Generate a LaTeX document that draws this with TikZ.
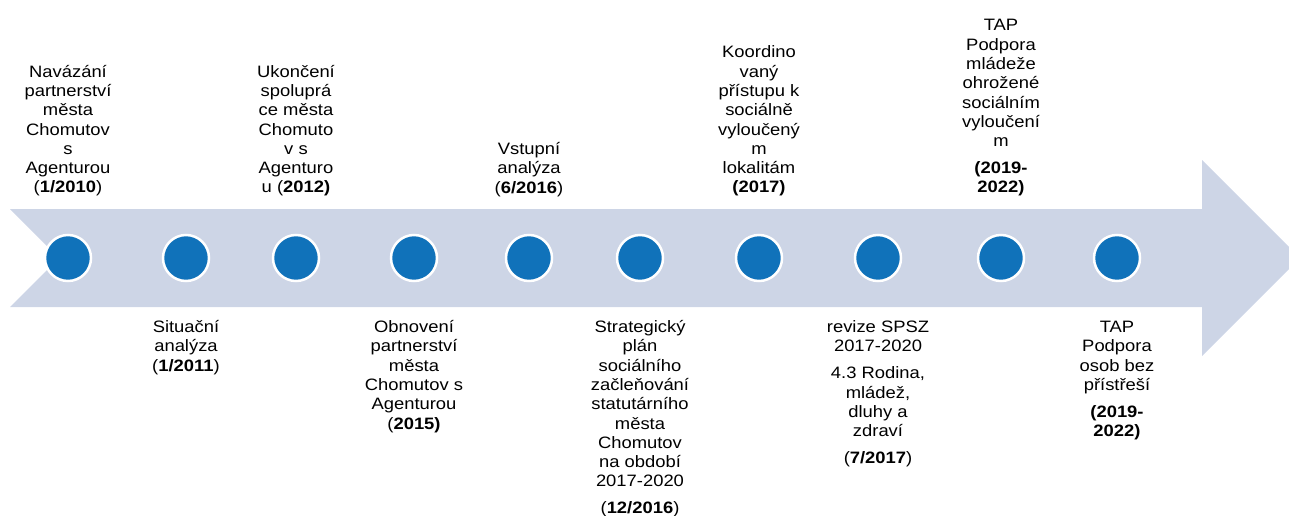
\documentclass[tikz,border=0pt]{standalone}
\usepackage{fontspec}
\setmainfont{Liberation Sans}[FakeStretch=1.115]
\definecolor{arrowfill}{RGB}{205,213,230}
\definecolor{dotblue}{RGB}{16,114,186}
\newcommand{\lbltext}[1]{\vtop{\hsize=170pt\parindent=0pt\parskip=0pt\lineskiplimit=-20pt\lineskip=0pt\centering\fontsize{16.5pt}{19.3pt}\selectfont #1\par}}
\tikzset{
  dot/.style={circle, fill=dotblue, draw=white, line width=2.5pt, minimum size=46pt, inner sep=0pt},
  lbl/.style={anchor=base, inner sep=0pt, text=black}
}
\begin{document}
\begin{tikzpicture}[x=1pt,y=-1pt]
\useasboundingbox (0,0) rectangle (1289,516);
\clip (0,0) rectangle (1289,516);
\fill[arrowfill] (10,209) -- (1202,209) -- (1202,160) -- (1300,258) -- (1202,356) -- (1202,307) -- (10,307) -- (59,258) -- cycle;
\foreach \i/\x in {1/68,2/186,3/296,4/414,5/529,6/640,7/759,8/878,9/1001,10/1117}{
  \node[dot] (c\i) at (\x,258) {};
}
\node[lbl] (l1) at (68,77.2) {\lbltext{Navázání\\partnerství\\města\\Chomutov\\s\\Agenturou\\(\textbf{1/2010})}};
\node[lbl] (l3) at (296,77.2) {\lbltext{Ukončení\\spoluprá\\ce města\\Chomuto\\v s\\Agenturo\\u (\textbf{2012)}}};
\node[lbl] (l5) at (529,154.4) {\lbltext{Vstupní\\analýza\\(\textbf{6/2016})}};
\node[lbl] (l7) at (759,57.9) {\lbltext{Koordino\\vaný\\přístupu k\\sociálně\\vyloučený\\m\\lokalitám\\\textbf{(2017)}}};
\node[lbl] (l9) at (1001,30.9) {\lbltext{TAP\\Podpora\\mládeže\\ohrožené\\sociálním\\vyloučení\\m\\[7.7pt]\textbf{(2019-}\\\textbf{2022)}}};
\node[lbl] (l2) at (186,332.5) {\lbltext{Situační\\analýza\\(\textbf{1/2011})}};
\node[lbl] (l4) at (414,332.5) {\lbltext{Obnovení\\partnerství\\města\\Chomutov s\\Agenturou\\(\textbf{2015)}}};
\node[lbl] (l6) at (640,332.5) {\lbltext{Strategický\\plán\\sociálního\\začleňování\\statutárního\\města\\Chomutov\\na období\\2017-2020\\[7.7pt](\textbf{12/2016})}};
\node[lbl] (l8) at (878,332.5) {\lbltext{revize SPSZ\\2017-2020\\[7.7pt]4.3 Rodina,\\mládež,\\dluhy a\\zdraví\\[7.7pt](\textbf{7/2017})}};
\node[lbl] (l10) at (1117,332.5) {\lbltext{TAP\\Podpora\\osob bez\\přístřeší\\[7.7pt]\textbf{(2019-}\\\textbf{2022)}}};
\end{tikzpicture}
\end{document}
